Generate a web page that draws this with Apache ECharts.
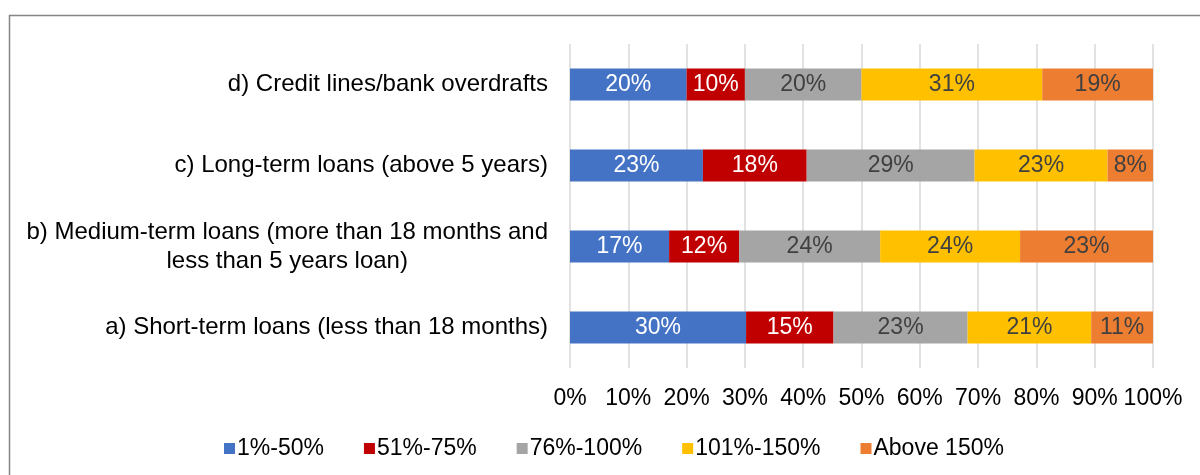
<!DOCTYPE html>
<html><head><meta charset="utf-8">
<script src="https://cdn.jsdelivr.net/npm/echarts@6/dist/echarts.min.js"></script>
<style>html,body{margin:0;padding:0;background:#fff}#c{width:1200px;height:475px}</style>
</head><body><div id="c"></div>
<script>
const categories = [
  'a) Short-term loans (less than 18 months)',
  'b) Medium-term loans (more than 18 months and\nless than 5 years loan)',
  'c) Long-term loans (above 5 years)',
  'd) Credit lines/bank overdrafts'
];
const seriesNames = ['1%-50%', '51%-75%', '76%-100%', '101%-150%', 'Above 150%'];
const s1to50 = [30.2, 17.0, 22.8, 20.0];
const s51to75 = [15.0, 12.0, 17.8, 10.0];
const s76to100 = [23.0, 24.2, 28.8, 20.0];
const s101to150 = [21.2, 24.0, 22.8, 31.0];
const sAbove150 = [10.6, 22.8, 7.8, 19.0];
const xTicks = [0, 10, 20, 30, 40, 50, 60, 70, 80, 90, 100];

const colors = ['#4472C4', '#C00000', '#A5A5A5', '#FFC000', '#ED7D31'];
const labelColors = ['#FFFFFF', '#FFFFFF', '#404040', '#404040', '#404040'];
const allData = [s1to50, s51to75, s76to100, s101to150, sAbove150];
const FONT = 'Liberation Sans, Arial, sans-serif';

const chart = echarts.init(document.getElementById('c'));
chart.setOption({
  animation: false,
  graphic: [{
    type: 'rect', shape: { x: 9.5, y: 15.5, width: 1400, height: 700 },
    style: { fill: 'none', stroke: '#858585', lineWidth: 1.5 }, silent: true, z: -10
  }],
  grid: { left: 570, right: 47, top: 44, bottom: 107 },
  legend: {
    data: seriesNames, left: 219, top: 432, itemWidth: 11, itemHeight: 11, itemGap: 40,
    icon: 'rect',
    textStyle: { fontSize: 23, fontFamily: FONT, color: '#000', padding: [0, 0, 0, -3] }
  },
  xAxis: {
    type: 'value', min: 0, max: 100, interval: 10,
    axisLine: { show: false }, axisTick: { show: false },
    splitLine: { lineStyle: { color: '#D9D9D9', width: 1.5 } },
    axisLabel: {
      margin: 19, fontSize: 23, fontFamily: FONT, color: '#000',
      formatter: v => (xTicks.indexOf(v) >= 0 ? v + '%' : '')
    }
  },
  yAxis: {
    type: 'category', data: categories,
    axisLine: { show: false }, axisTick: { show: false },
    axisLabel: {
      margin: 22, fontSize: 24, fontFamily: FONT, color: '#000', lineHeight: 29,
      formatter: v => v.indexOf('\n') >= 0 ? v.split('\n').map(s => '{c|' + s + '}').join('\n') : v,
      rich: { c: { align: 'center', fontSize: 24, fontFamily: FONT, color: '#000', lineHeight: 29 } }
    }
  },
  series: seriesNames.map((name, i) => ({
    name, type: 'bar', stack: 'total', barWidth: 32,
    data: allData[i],
    itemStyle: { color: colors[i] },
    label: {
      show: true, position: 'inside', fontSize: 23, fontFamily: FONT, color: labelColors[i],
      formatter: p => Math.round(p.value) + '%'
    }
  }))
});
</script></body></html>
